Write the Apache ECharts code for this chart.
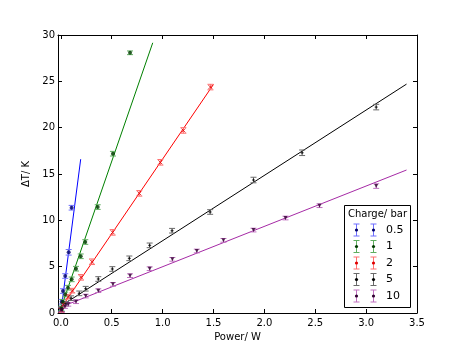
<!DOCTYPE html>
<html>
<head>
<meta charset="utf-8">
<script src="https://cdn.jsdelivr.net/npm/echarts@6/dist/echarts.min.js"></script>
<style>html,body{margin:0;padding:0;background:#fff}#c{width:463px;height:348px}</style>
</head>
<body>
<div id="c"></div>
<script>
// ---- data ----
const xTicks = [0, 0.5, 1.0, 1.5, 2.0, 2.5, 3.0, 3.5];
const labels = ['0.5', '1', '2', '5', '10'];

const x05 = [0.004, 0.008, 0.021, 0.043, 0.077, 0.106];
const y05 = [0.40, 1.22, 2.37, 3.99, 6.55, 11.36];
const e05 = [0.25, 0.25, 0.25, 0.25, 0.30, 0.25];

const x1 = [0.005, 0.020, 0.043, 0.070, 0.106, 0.149, 0.195, 0.240, 0.362, 0.512, 0.680];
const y1 = [0.50, 1.20, 2.00, 2.73, 3.63, 4.78, 6.12, 7.66, 11.43, 17.19, 28.08];
const e1 = [0.25, 0.25, 0.25, 0.25, 0.25, 0.25, 0.25, 0.25, 0.25, 0.25, 0.20];

const x2 = [0.006, 0.025, 0.073, 0.112, 0.198, 0.306, 0.509, 0.771, 0.978, 1.204, 1.470];
const y2 = [0.30, 0.90, 1.76, 2.41, 3.85, 5.53, 8.70, 12.91, 16.26, 19.70, 24.38];
const e2 = [0.25, 0.25, 0.25, 0.25, 0.30, 0.30, 0.30, 0.30, 0.30, 0.30, 0.30];

const x5 = [0.010, 0.050, 0.100, 0.181, 0.244, 0.368, 0.506, 0.673, 0.873, 1.093, 1.467, 1.893, 2.371, 3.099];
const y5 = [0.40, 1.00, 1.60, 2.12, 2.62, 3.67, 4.75, 5.90, 7.30, 8.88, 10.90, 14.35, 17.29, 22.22];
const e5 = [0.25, 0.25, 0.25, 0.25, 0.25, 0.25, 0.25, 0.25, 0.25, 0.25, 0.25, 0.30, 0.30, 0.30];

const x10 = [0.010, 0.040, 0.073, 0.149, 0.244, 0.368, 0.512, 0.680, 0.873, 1.096, 1.336, 1.598, 1.893, 2.208, 2.542, 3.099];
const y10 = [0.30, 0.70, 0.94, 1.22, 1.83, 2.41, 3.09, 4.03, 4.78, 5.79, 6.69, 7.84, 8.95, 10.25, 11.58, 13.70];
const e10 = [0.20, 0.20, 0.20, 0.20, 0.20, 0.20, 0.20, 0.20, 0.20, 0.20, 0.20, 0.20, 0.20, 0.20, 0.20, 0.25];

// fitted lines (end points)
const fitX05 = [0, 0.195], fitY05 = [0.10, 16.6];
const fitX1 = [0, 0.903], fitY1 = [0.50, 29.16];
const fitX2 = [0, 1.500], fitY2 = [0.50, 24.67];
const fitX5 = [0, 3.397], fitY5 = [0.75, 24.70];
const fitX10 = [0, 3.397], fitY10 = [0.64, 15.43];

// ---- styling ----
const FONT = 'DejaVu Sans';
const groups = [
  {xs: x05, ys: y05, es: e05, fx: fitX05, fy: fitY05, line: '#0000ff', err: '#6f6fff', mk: '#00006a', sym: 'circle', size: 4, rot: 0},
  {xs: x1, ys: y1, es: e1, fx: fitX1, fy: fitY1, line: '#008000', err: '#5fae5f', mk: '#003a00', sym: 'circle', size: 4, rot: 0},
  {xs: x2, ys: y2, es: e2, fx: fitX2, fy: fitY2, line: '#ff0000', err: '#ff6f6f', mk: '#e00000', sym: 'path://M0,0L10,10M10,0L0,10', size: 4, rot: 0},
  {xs: x5, ys: y5, es: e5, fx: fitX5, fy: fitY5, line: '#000000', err: '#6a6a6a', mk: '#000000', sym: 'path://M5,0L5,10M0,5L10,5', size: 3, rot: 0},
  {xs: x10, ys: y10, es: e10, fx: fitX10, fy: fitY10, line: '#a62aa6', err: '#c070c0', mk: '#300030', sym: 'triangle', size: 4, rot: 180}
];

function errRender(color) {
  return function (params, api) {
    const x = api.value(0), y = api.value(1), e = api.value(2);
    const t = api.coord([x, y + e]);
    const b = api.coord([x, y - e]);
    const cw = 3;
    const st = {stroke: color, lineWidth: 1};
    return {type: 'group', children: [
      {type: 'line', shape: {x1: t[0], y1: t[1], x2: b[0], y2: b[1]}, style: st},
      {type: 'line', shape: {x1: t[0] - cw, y1: t[1], x2: t[0] + cw, y2: t[1]}, style: st},
      {type: 'line', shape: {x1: b[0] - cw, y1: b[1], x2: b[0] + cw, y2: b[1]}, style: st}
    ]};
  };
}

const series = [];
groups.forEach(function (g) {
  series.push({
    type: 'line', data: g.fx.map(function (v, i) { return [v, g.fy[i]]; }),
    showSymbol: false, symbol: 'none', lineStyle: {color: g.line, width: 1}, silent: true, z: 2, clip: true
  });
});
groups.forEach(function (g) {
  series.push({
    type: 'custom', renderItem: errRender(g.err), clip: true, z: 3,
    data: g.xs.map(function (v, i) { return [v, g.ys[i], g.es[i]]; }),
    encode: {x: 0, y: 1}, silent: true
  });
  series.push({
    type: 'scatter', data: g.xs.map(function (v, i) { return [v, g.ys[i]]; }),
    symbol: g.sym, symbolSize: g.size, symbolRotate: g.rot, z: 4, clip: true,
    itemStyle: {color: g.mk, borderColor: g.mk, borderWidth: (g.sym.indexOf('path') === 0 ? 1 : 0)}, silent: true
  });
});

// legend drawn as graphics
const graphic = [];
const LX = 344.5, LY = 205.5, LW = 66, LH = 102;
graphic.push({type: 'rect', shape: {x: LX, y: LY, width: LW, height: LH}, style: {fill: '#fff', stroke: '#000', lineWidth: 1}, z: 10});
graphic.push({type: 'text', x: LX + LW / 2, y: 214, style: {text: 'Charge/ bar', font: '10px "' + FONT + '"', fill: '#000', textAlign: 'center', textVerticalAlign: 'middle'}, z: 11});
groups.forEach(function (g, i) {
  const cy = 230 + i * 16.5;
  [356.5, 373.5].forEach(function (cx) {
    const st = {stroke: g.err, lineWidth: 1};
    graphic.push({type: 'line', shape: {x1: cx, y1: cy - 6, x2: cx, y2: cy + 6}, style: st, z: 11});
    graphic.push({type: 'line', shape: {x1: cx - 3, y1: cy - 6, x2: cx + 3, y2: cy - 6}, style: st, z: 11});
    graphic.push({type: 'line', shape: {x1: cx - 3, y1: cy + 6, x2: cx + 3, y2: cy + 6}, style: st, z: 11});
    graphic.push({type: 'circle', shape: {cx: cx, cy: cy, r: 1.6}, style: {fill: g.mk}, z: 12});
  });
  graphic.push({type: 'text', x: 386, y: cy, style: {text: labels[i], font: '11px "' + FONT + '"', fill: '#000', textAlign: 'left', textVerticalAlign: 'middle'}, z: 11});
});

const axisLineStyle = {show: true, onZero: false, lineStyle: {color: '#000', width: 1}};
const tickStyle = {show: true, inside: true, length: 4, lineStyle: {color: '#000', width: 1}};
const labelStyle = {color: '#000', fontSize: 10, fontFamily: FONT};

const option = {
  backgroundColor: '#fff',
  animation: false,
  grid: {left: 58, right: 46, top: 35, bottom: 35, containLabel: false},
  xAxis: [
    {type: 'value', min: -0.028, max: 3.5, position: 'bottom',
     axisLine: axisLineStyle,
     axisTick: Object.assign({}, tickStyle, {customValues: xTicks}),
     axisLabel: Object.assign({}, labelStyle, {customValues: xTicks, margin: 5, formatter: function (v) { return v.toFixed(1); }}),
     splitLine: {show: false},
     name: 'Power/ W', nameLocation: 'middle', nameGap: 18,
     nameTextStyle: {color: '#000', fontSize: 10, fontFamily: FONT}},
    {type: 'value', min: -0.028, max: 3.5, position: 'top',
     axisLine: axisLineStyle,
     axisTick: Object.assign({}, tickStyle, {customValues: xTicks}),
     axisLabel: {show: false}, splitLine: {show: false}}
  ],
  yAxis: [
    {type: 'value', min: 0, max: 30, interval: 5, position: 'left',
     axisLine: axisLineStyle, axisTick: tickStyle,
     axisLabel: Object.assign({}, labelStyle, {margin: 3}),
     splitLine: {show: false},
     name: 'ΔT/ K', nameLocation: 'middle', nameGap: 20, nameRotate: 90,
     nameTextStyle: {color: '#000', fontSize: 10, fontFamily: FONT}},
    {type: 'value', min: 0, max: 30, interval: 5, position: 'right',
     axisLine: axisLineStyle, axisTick: tickStyle,
     axisLabel: {show: false}, splitLine: {show: false}}
  ],
  series: series,
  graphic: graphic
};

const chart = echarts.init(document.getElementById('c'), null, {renderer: 'canvas'});
chart.setOption(option);
</script>
</body>
</html>
